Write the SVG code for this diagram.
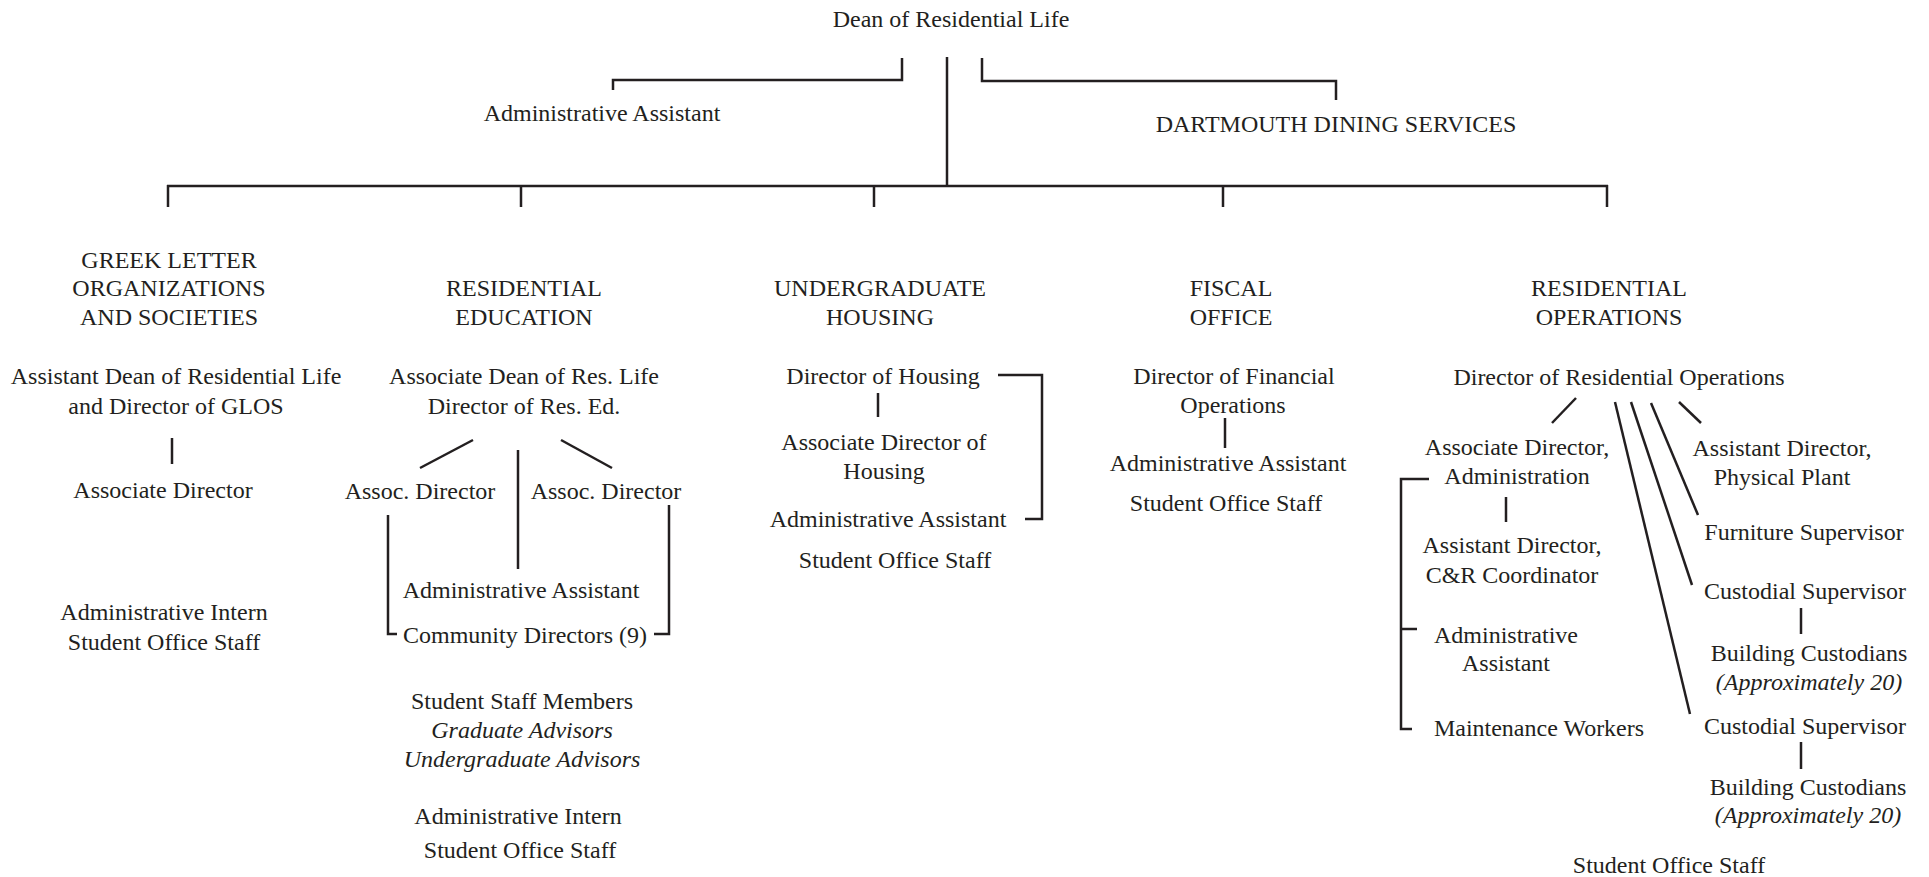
<svg xmlns="http://www.w3.org/2000/svg" width="1929" height="877" viewBox="0 0 1929 877">
<style>
text{font-family:"Liberation Serif","Times New Roman",serif;font-size:24px;fill:#231f20;text-anchor:middle}
.it{font-style:italic}
.c line,.c polyline{stroke:#231f20;stroke-width:2.5;fill:none}
</style>
<rect width="1929" height="877" fill="#ffffff"/>
<g class="c" id="connectors">
<polyline points="902,58 902,80 613,80 613,90"/>
<line x1="947" y1="57" x2="947" y2="186"/>
<polyline points="982,58 982,81 1336,81 1336,100"/>
<line x1="167" y1="186" x2="1608" y2="186"/>
<line x1="168" y1="185" x2="168" y2="207"/>
<line x1="521" y1="185" x2="521" y2="207"/>
<line x1="874" y1="185" x2="874" y2="207"/>
<line x1="1223" y1="185" x2="1223" y2="207"/>
<line x1="1607" y1="185" x2="1607" y2="207"/>
<line x1="172" y1="438" x2="172" y2="464"/>
<line x1="473" y1="440" x2="420" y2="468"/>
<line x1="518" y1="450" x2="518" y2="569"/>
<line x1="561" y1="440" x2="612" y2="468"/>
<polyline points="388,515 388,634 397,634"/>
<polyline points="669,505 669,634 654,634"/>
<line x1="878" y1="393" x2="878" y2="417"/>
<polyline points="998,375 1042,375 1042,519 1025,519"/>
<line x1="1225" y1="418" x2="1225" y2="448"/>
<line x1="1576" y1="398" x2="1552" y2="423"/>
<line x1="1615" y1="402" x2="1690" y2="714"/>
<line x1="1631" y1="402" x2="1692" y2="585"/>
<line x1="1651" y1="403" x2="1698" y2="515"/>
<line x1="1679" y1="402" x2="1701" y2="423"/>
<polyline points="1429,479 1401,479 1401,729 1412,729"/>
<line x1="1401" y1="629" x2="1417" y2="629"/>
<line x1="1506" y1="497" x2="1506" y2="522"/>
<line x1="1801" y1="608" x2="1801" y2="634"/>
<line x1="1801" y1="742" x2="1801" y2="769"/>
</g>
<g id="dean"><text x="951" y="27">Dean of Residential Life</text></g>
<g id="admin-assistant"><text x="602" y="121">Administrative Assistant</text></g>
<g id="dining"><text x="1336" y="132">DARTMOUTH DINING SERVICES</text></g>
<g id="glos">
<text x="169" y="268">GREEK LETTER</text>
<text x="169" y="296">ORGANIZATIONS</text>
<text x="169" y="325">AND SOCIETIES</text>
<text x="176" y="384">Assistant Dean of Residential Life</text>
<text x="176" y="414">and Director of GLOS</text>
<text x="163" y="498">Associate Director</text>
<text x="164" y="620">Administrative Intern</text>
<text x="164" y="650">Student Office Staff</text>
</g>
<g id="res-ed">
<text x="524" y="296">RESIDENTIAL</text>
<text x="524" y="325">EDUCATION</text>
<text x="524" y="384">Associate Dean of Res. Life</text>
<text x="524" y="414">Director of Res. Ed.</text>
<text x="420" y="499">Assoc. Director</text>
<text x="606" y="499">Assoc. Director</text>
<text x="521" y="598">Administrative Assistant</text>
<text x="525" y="643">Community Directors (9)</text>
<text x="522" y="709">Student Staff Members</text>
<text class="it" x="522" y="738">Graduate Advisors</text>
<text class="it" x="522" y="767">Undergraduate Advisors</text>
<text x="518" y="824">Administrative Intern</text>
<text x="520" y="858">Student Office Staff</text>
</g>
<g id="housing">
<text x="880" y="296">UNDERGRADUATE</text>
<text x="880" y="325">HOUSING</text>
<text x="883" y="384">Director of Housing</text>
<text x="884" y="450">Associate Director of</text>
<text x="884" y="479">Housing</text>
<text x="888" y="527">Administrative Assistant</text>
<text x="895" y="568">Student Office Staff</text>
</g>
<g id="fiscal">
<text x="1231" y="296">FISCAL</text>
<text x="1231" y="325">OFFICE</text>
<text x="1234" y="384">Director of Financial</text>
<text x="1233" y="413">Operations</text>
<text x="1228" y="471">Administrative Assistant</text>
<text x="1226" y="511">Student Office Staff</text>
</g>
<g id="res-ops">
<text x="1609" y="296">RESIDENTIAL</text>
<text x="1609" y="325">OPERATIONS</text>
<text x="1619" y="385">Director of Residential Operations</text>
<text x="1517" y="455">Associate Director,</text>
<text x="1517" y="484">Administration</text>
<text x="1512" y="553">Assistant Director,</text>
<text x="1512" y="583">C&amp;R Coordinator</text>
<text x="1506" y="643">Administrative</text>
<text x="1506" y="671">Assistant</text>
<text x="1539" y="736">Maintenance Workers</text>
<text x="1782" y="456">Assistant Director,</text>
<text x="1782" y="485">Physical Plant</text>
<text x="1804" y="540">Furniture Supervisor</text>
<text x="1805" y="599">Custodial Supervisor</text>
<text x="1809" y="661">Building Custodians</text>
<text class="it" x="1809" y="690">(Approximately 20)</text>
<text x="1805" y="734">Custodial Supervisor</text>
<text x="1808" y="795">Building Custodians</text>
<text class="it" x="1808" y="823">(Approximately 20)</text>
<text x="1669" y="873">Student Office Staff</text>
</g>
</svg>
